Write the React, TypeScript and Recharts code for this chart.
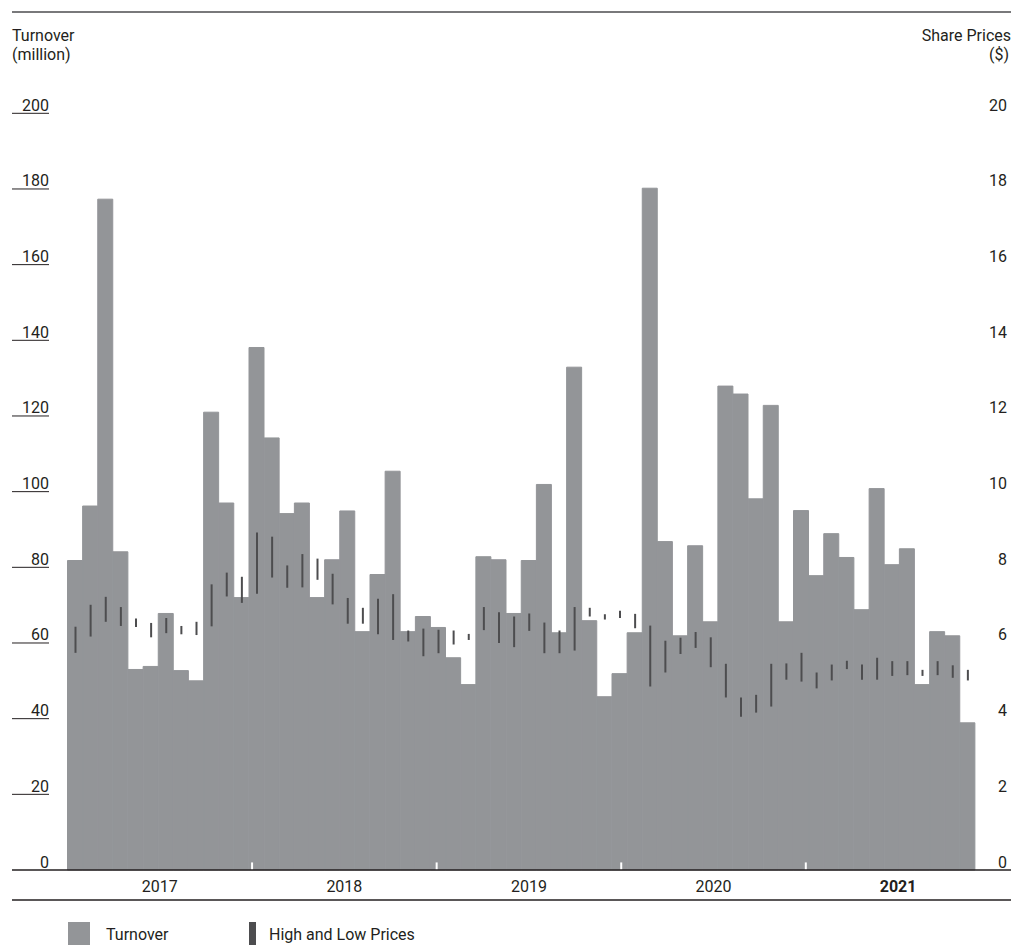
import { ComposedChart, Bar, XAxis, YAxis, ReferenceLine } from "recharts";

const years = ["2017", "2018", "2019", "2020", "2021"];
const monthNames = ["Jan", "Feb", "Mar", "Apr", "May", "Jun", "Jul", "Aug", "Sep", "Oct", "Nov", "Dec"];

// monthly turnover, million
const turnover = [
  81.8, 96.2, 177.3, 84.1, 53.0, 53.8, 67.8, 52.7, 50.0, 121.0, 97.0, 72.0,
  138.1, 114.2, 94.2, 97.0, 72.0, 82.0, 94.9, 63.0, 78.1, 105.4, 63.0, 67.0,
  64.1, 56.1, 49.0, 82.8, 82.0, 67.8, 81.8, 101.9, 62.7, 132.9, 65.9, 45.8,
  51.9, 62.7, 180.2, 86.8, 61.9, 85.7, 65.6, 127.9, 125.8, 98.1, 122.8, 65.6,
  95.0, 77.8, 88.9, 82.6, 68.8, 100.8, 80.7, 84.9, 49.0, 63.0, 61.9, 38.9,
];

// monthly share price range, $
const priceHigh = [
  6.43, 7.01, 7.22, 6.95, 6.65, 6.53, 6.66, 6.45, 6.56, 7.55, 7.86, 7.75,
  8.92, 8.81, 8.05, 8.35, 8.23, 7.83, 7.19, 6.93, 7.17, 7.29, 6.33, 6.38,
  6.35, 6.33, 6.24, 6.95, 6.81, 6.70, 6.78, 6.54, 6.33, 6.95, 6.93, 6.76,
  6.85, 6.77, 6.46, 6.06, 6.14, 6.29, 6.15, 5.45, 4.56, 4.63, 5.45, 5.46,
  5.74, 5.22, 5.43, 5.53, 5.43, 5.61, 5.52, 5.52, 5.29, 5.52, 5.41, 5.29,
];
const priceLow = [
  5.74, 6.17, 6.56, 6.45, 6.42, 6.15, 6.26, 6.23, 6.21, 6.44, 7.23, 7.06,
  7.30, 7.73, 7.46, 7.47, 7.67, 7.02, 6.51, 6.51, 6.23, 6.08, 6.04, 5.65,
  5.73, 5.96, 6.08, 6.34, 6.00, 5.89, 6.32, 5.73, 5.73, 5.80, 6.70, 6.62,
  6.66, 6.39, 4.85, 5.22, 5.71, 5.87, 5.36, 4.56, 4.05, 4.16, 4.32, 5.03,
  4.98, 4.80, 5.01, 5.31, 5.03, 5.03, 5.13, 5.15, 5.13, 5.15, 5.08, 5.01,
];

const turnoverTicks = [0, 20, 40, 60, 80, 100, 120, 140, 160, 180, 200];
const priceTicks = [0, 2, 4, 6, 8, 10, 12, 14, 16, 18, 20];
const boldYear = "2021";

const data = turnover.map((t, i) => ({
  month: `${monthNames[i % 12]} ${years[Math.floor(i / 12)]}`,
  turnover: t,
  range: [priceLow[i], priceHigh[i]],
}));

const monthCount = turnover.length;
const yearCentres = years.map((_, i) => i * 12 + 6);
const yearBreaks = years.slice(1).map((_, i) => (i + 1) * 12);

const FONT = "Roboto, 'Noto Sans', sans-serif";
const TEXT = "#231f20";
const BAR = "#939598";
const RANGE = "#4d4d4f";

function LeftTick(props: any) {
  const { y, payload } = props;
  return (
    <g>
      <text x={49} y={y - 2.5} textAnchor="end" fontSize={16} fontFamily={FONT} fill={TEXT}>
        {payload.value}
      </text>
      {payload.value !== 0 && <line x1={12} x2={49} y1={y} y2={y} stroke={TEXT} strokeWidth={1} />}
    </g>
  );
}

function RightTick(props: any) {
  const { y, payload } = props;
  return (
    <text x={1007} y={y - 2.5} textAnchor="end" fontSize={16} fontFamily={FONT} fill={TEXT}>
      {payload.value}
    </text>
  );
}

function YearTick(props: any) {
  const { x, y, payload } = props;
  const label = years[yearCentres.indexOf(payload.value)];
  return (
    <text
      x={x}
      y={y + 19.5}
      textAnchor="middle"
      fontSize={16}
      fontFamily={FONT}
      fontWeight={label === boldYear ? 700 : 400}
      fill={TEXT}
    >
      {label}
    </text>
  );
}

export default function App() {
  return (
    <div style={{ position: "absolute", left: 0, top: 0, width: 1011, height: 945, background: "#fff", overflow: "hidden" }}>
      <ComposedChart
        width={1011}
        height={945}
        data={data}
        margin={{ top: 113.3, right: 0, bottom: 45, left: 0 }}
        barCategoryGap={0}
        barGap={0}
      >
        <XAxis
          xAxisId="yr"
          type="number"
          domain={[0, monthCount]}
          allowDataOverflow
          ticks={yearCentres}
          tick={<YearTick />}
          tickLine={false}
          axisLine={false}
          tickSize={0}
          height={30}
        />
        <XAxis xAxisId="m" dataKey="month" hide height={0} />
        <XAxis xAxisId="p" dataKey="month" hide height={0} />
        <YAxis
          yAxisId="left"
          domain={[0, 200]}
          ticks={turnoverTicks}
          tick={<LeftTick />}
          axisLine={false}
          tickLine={false}
          width={67.5}
        />
        <YAxis
          yAxisId="right"
          orientation="right"
          domain={[0, 20]}
          ticks={priceTicks}
          tick={<RightTick />}
          axisLine={false}
          tickLine={false}
          width={36}
        />
        <Bar
          xAxisId="m"
          yAxisId="left"
          dataKey="turnover"
          fill={BAR}
          stroke={BAR}
          strokeWidth={1}
          isAnimationActive={false}
        />
        <Bar xAxisId="p" yAxisId="right" dataKey="range" fill={RANGE} barSize={2} isAnimationActive={false} />
        {yearBreaks.map((b) => (
          <ReferenceLine
            key={b}
            xAxisId="yr"
            yAxisId="left"
            segment={[{ x: b, y: 0 }, { x: b, y: 2 }]}
            stroke="#ffffff"
            strokeWidth={2}
          />
        ))}
      </ComposedChart>
      <svg width={1011} height={945} style={{ position: "absolute", left: 0, top: 0, pointerEvents: "none" }}>
        <line x1={12} x2={1011} y1={12} y2={12} stroke={RANGE} strokeWidth={1.5} />
        <line x1={12} x2={1011} y1={870} y2={870} stroke={TEXT} strokeWidth={1.5} />
        <line x1={12} x2={1011} y1={900} y2={900} stroke={TEXT} strokeWidth={1.5} />
        <g fontFamily={FONT} fontSize={16} fill={TEXT}>
          <text x={12} y={41}>Turnover</text>
          <text x={12} y={60}>(million)</text>
          <text x={1011} y={41} textAnchor="end">Share Prices</text>
          <text x={1009} y={60} textAnchor="end">($)</text>
          <rect x={68} y={922} width={22} height={23} fill={BAR} />
          <text x={106} y={940}>Turnover</text>
          <rect x={249} y={922} width={7} height={23} fill={RANGE} />
          <text x={269} y={940}>High and Low Prices</text>
        </g>
      </svg>
    </div>
  );
}
